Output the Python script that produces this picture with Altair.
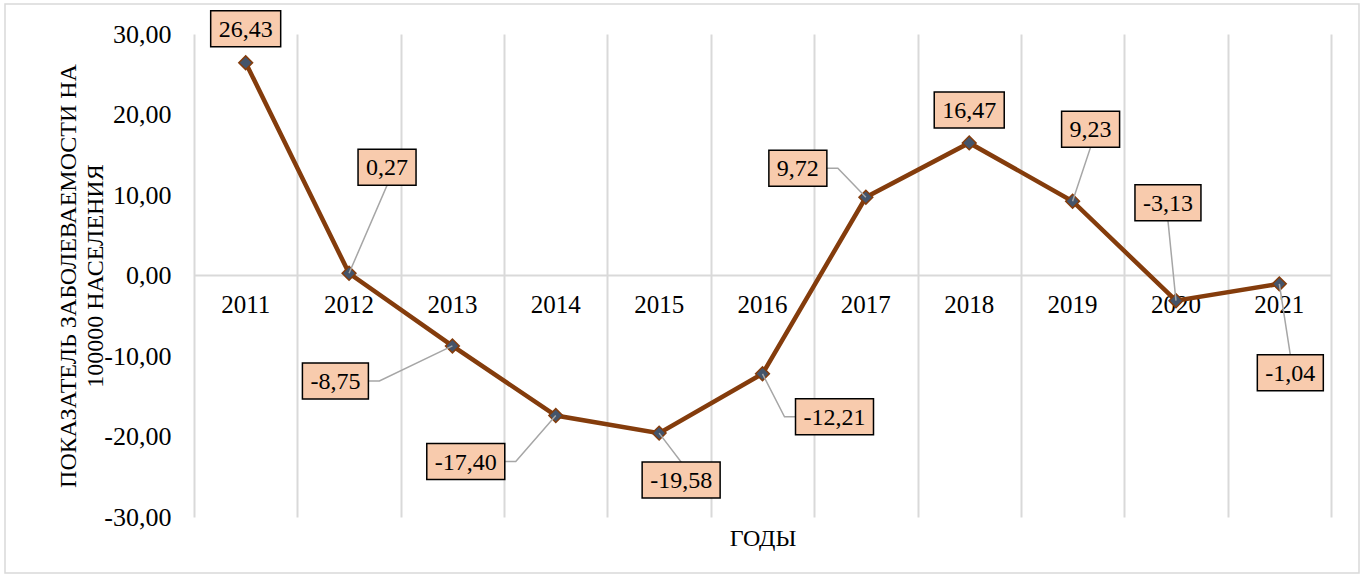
import altair as alt
import pandas as pd

# ---- data ----
YEARS = [2011, 2012, 2013, 2014, 2015, 2016, 2017, 2018, 2019, 2020, 2021]
VALUES = [26.43, 0.27, -8.75, -17.40, -19.58, -12.21, 9.72, 16.47, 9.23, -3.13, -1.04]
Y_TICKS = [-30, -20, -10, 0, 10, 20, 30]
Y_TITLE = ["ПОКАЗАТЕЛЬ ЗАБОЛЕВАЕМОСТИ НА", "100000 НАСЕЛЕНИЯ"]
X_TITLE = "ГОДЫ"

# ---- label layout (pixel offsets of label box centre from its point) ----
LABEL_DX = [0, 38, -117, -90, 22, 72, -68, 0, 18, -8, 11]
LABEL_DY = [-34, -106, 35, 46, 47, 43, -29, -33, -72, -98, 89]
LEADER_SIDE = ["", "B", "R", "R", "T", "L", "R", "", "B", "B", "T"]

FONT = "Liberation Serif"
W, H = 1137, 483
X_DOM = [YEARS[0] - 0.5, YEARS[-1] + 0.5]
Y_DOM = [-30, 30]
PX = W / (X_DOM[1] - X_DOM[0])
PY = H / (Y_DOM[1] - Y_DOM[0])
GRID_EDGES = [X_DOM[0] + i for i in range(len(YEARS) + 1)]

BOX_H = 36
ELBOW = 11


def fmt(v):
    return f"{v:.2f}".replace(".", ",")


def text_w(s, size=24):
    w = 0
    for ch in s:
        if ch.isdigit():
            w += 0.5
        elif ch == ",":
            w += 0.25
        elif ch == "-":
            w += 0.333
        else:
            w += 0.5
    return w * size


pts = pd.DataFrame({"year": YEARS, "value": VALUES, "zero": 0})

lab_rows = []
lead_rows = []
for i, (yr, v) in enumerate(zip(YEARS, VALUES)):
    t = fmt(v)
    lx = yr + LABEL_DX[i] / PX
    ly = v - LABEL_DY[i] / PY
    bw = text_w(t) + 16
    lab_rows.append({
        "text": t, "lx": lx, "ly": ly,
        "x1": lx - bw / 2 / PX, "x2": lx + bw / 2 / PX,
        "y1": ly - BOX_H / 2 / PY, "y2": ly + BOX_H / 2 / PY,
    })
    side = LEADER_SIDE[i]
    if side:
        if side == "R":
            ex, ey = lx + (bw / 2 + ELBOW) / PX, ly
        elif side == "L":
            ex, ey = lx - (bw / 2 + ELBOW) / PX, ly
        elif side == "T":
            ex, ey = lx, ly + BOX_H / 2 / PY
        else:
            ex, ey = lx, ly - BOX_H / 2 / PY
        for k, (px_, py_) in enumerate([(lx, ly), (ex, ey), (yr, v)]):
            lead_rows.append({"id": i, "o": k, "x": px_, "y": py_})

labs = pd.DataFrame(lab_rows)
leads = pd.DataFrame(lead_rows)
one = pd.DataFrame({"zero": [0]})

xs = alt.Scale(domain=X_DOM, nice=False, zero=False)
ys = alt.Scale(domain=Y_DOM, nice=False, zero=False)

XAX = alt.Axis(
    values=GRID_EDGES, grid=True, gridColor="#D9D9D9", gridWidth=2,
    labels=False, ticks=False, domain=False,
    title=X_TITLE, titleFont=FONT, titleFontSize=24, titleFontWeight="normal",
    titleColor="black", titleY=21, titleBaseline="middle",
)
YAX = alt.Axis(
    values=Y_TICKS, grid=False, ticks=False, domain=False,
    labelExpr="replace(replace(format(datum.value, '.2f'), '.', ','), '\u2212', '-')",
    labelFont=FONT, labelFontSize=26, labelColor="black", labelPadding=23,
    title=Y_TITLE, titleFont=FONT, titleFontSize=24, titleFontWeight="normal",
    titleColor="black", titleX=68 - 194, titleY=H / 2, titleAngle=-90,
    titleAlign="center", titleBaseline="middle", titleLineHeight=27,
)


def X(f):
    return alt.X(f"{f}:Q", scale=xs, axis=XAX)


def Y(f):
    return alt.Y(f"{f}:Q", scale=ys, axis=YAX)


frame = alt.Chart(one).mark_rect(fill="transparent", stroke="#D9D9D9", strokeWidth=1.5).encode(
    x=alt.value(5 - 194), x2=alt.value(1359 - 194),
    y=alt.value(4 - 34), y2=alt.value(573 - 34),
)

zero_rule = alt.Chart(one).mark_rule(color="#D9D9D9", strokeWidth=2).encode(y=Y("zero"))

year_labels = alt.Chart(pts).mark_text(
    font=FONT, fontSize=25, color="black", baseline="middle", dy=29
).encode(x=X("year"), y=Y("zero"), text="year:N")

line = alt.Chart(pts).mark_line(color="#843C0C", strokeWidth=4.5).encode(
    x=X("year"), y=Y("value"))

points = alt.Chart(pts).mark_point(
    shape="diamond", filled=True, fill="#44546A", stroke="#843C0C",
    strokeWidth=1.5, size=190, opacity=1
).encode(x=X("year"), y=Y("value"))

leaders = alt.Chart(leads).mark_line(color="#A6A6A6", strokeWidth=1.5).encode(
    x=X("x"), y=Y("y"), detail="id:N", order="o:Q")

boxes = alt.Chart(labs).mark_rect(fill="#F8CBAD", stroke="black", strokeWidth=1.5).encode(
    x=X("x1"), x2="x2", y=Y("y1"), y2="y2")

texts = alt.Chart(labs).mark_text(
    font=FONT, fontSize=24, color="black", baseline="middle", dy=1
).encode(x=X("lx"), y=Y("ly"), text="text:N")

chart = alt.layer(
    frame, zero_rule, year_labels, line, points, leaders, boxes, texts
).properties(
    width=W, height=H,
    autosize=alt.AutoSizeParams(type="none"),
    padding={"left": 194, "top": 34, "right": 33, "bottom": 60},
    background="white",
).configure_view(stroke=None)

chart.save("out.html", embed_options={"renderer": "svg", "actions": False})
